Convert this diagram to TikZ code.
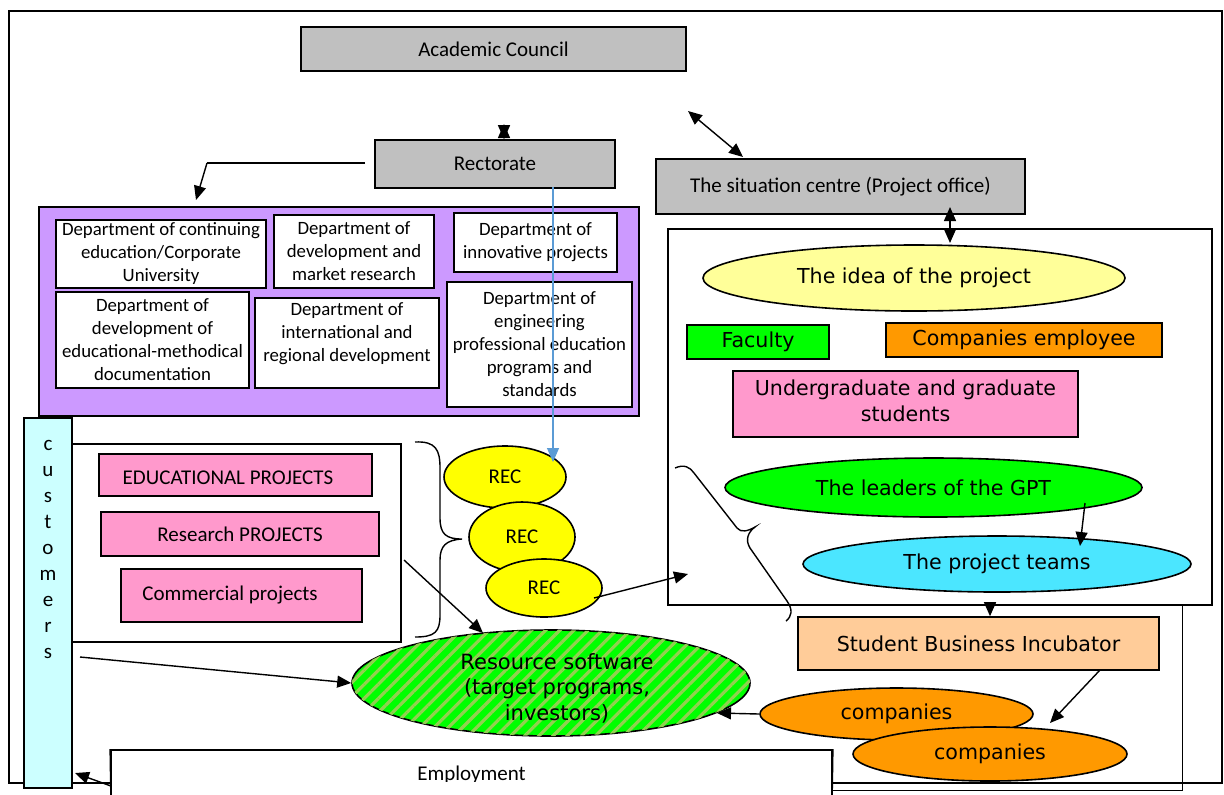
\documentclass[tikz,border=0pt]{standalone}
\usepackage{fontspec}
\setmainfont{Carlito}
\newfontfamily\vfont{DejaVu Sans}
\usetikzlibrary{arrows.meta,shapes.geometric,patterns.meta}
\definecolor{boxgray}{HTML}{C0C0C0}
\definecolor{lilac}{HTML}{CC99FF}
\definecolor{pinkbox}{HTML}{FF99CC}
\definecolor{custcyan}{HTML}{CCFFFF}
\definecolor{recyellow}{HTML}{FFFF00}
\definecolor{ideayellow}{HTML}{FFFF99}
\definecolor{brightgreen}{HTML}{00FF00}
\definecolor{orangebox}{HTML}{FF9900}
\definecolor{teamcyan}{HTML}{4BE6FF}
\definecolor{peach}{HTML}{FFCC99}
\definecolor{stripegreen}{HTML}{92D050}
\definecolor{linkblue}{HTML}{5B9BD5}
\begin{document}
\begin{tikzpicture}[x=0.5pt,y=-0.5pt,
  box/.style={draw,line width=0.8pt,inner sep=0pt,align=center,font=\fontsize{10.5}{12.6}\selectfont},
  dept/.style={box,fill=white,font=\fontsize{9.4}{11.5}\selectfont},
  vbox/.style={box,font=\vfont\fontsize{10.3}{12.7}\selectfont},
  ell/.style={ellipse,draw,line width=0.8pt,inner sep=0pt,align=center,font=\vfont\fontsize{10.3}{12.7}\selectfont},
  arr/.style={-{Triangle[length=7pt,width=6pt]},line width=0.7pt},
  dbl/.style={{Triangle[length=7pt,width=6pt]}-{Triangle[length=7pt,width=6pt]},line width=0.7pt},
  brace/.style={line width=0.7pt},
  plain/.style={align=center,inner sep=0pt,font=\fontsize{10.5}{12.6}\selectfont},
]
\useasboundingbox (0,0) rectangle (1224,794);
\clip (0,0) rectangle (1224,794);
\fill[white] (0,0) rectangle (1224,794);

% outer frame
\draw[line width=0.8pt] (9,11) rectangle (1222,783);

% top boxes
\node[box,fill=boxgray,minimum width=192.5pt,minimum height=22pt] (acad) at (493.5,49) {Academic Council};
\node[box,fill=boxgray,minimum width=120pt,minimum height=24pt] (rect) at (495,164) {Rectorate};
\node[box,fill=boxgray,minimum width=184.5pt,minimum height=27.5pt] (sit) at (840.5,186.5) {The situation centre (Project office)};

% departments
\node[box,fill=lilac,minimum width=300pt,minimum height=104.5pt] (purple) at (339,311.5) {};
\node[dept,minimum width=105pt,minimum height=34pt] (d1) at (161,254) {Department of continuing\\education/Corporate\\University};
\node[dept,minimum width=80pt,minimum height=36.5pt] (d2) at (354,251.5) {Department of\\development and\\market research};
\node[dept,minimum width=81.5pt,minimum height=29.5pt] (d3) at (535.5,242.5) {Department of\\innovative projects};
\node[dept,minimum width=96.5pt,minimum height=48pt] (d4) at (152.5,340) {Department of\\development of\\educational-methodical\\documentation};
\node[dept,minimum width=92pt,minimum height=45pt] (d5) at (347,343) {};
\node[plain,font=\fontsize{9.4}{11.5}\selectfont] (d5t) at (347,334) {Department of\\international and\\regional development};
\node[dept,minimum width=92.5pt,minimum height=62.5pt] (d6) at (539.5,344.5) {Department of\\engineering\\professional education\\programs and\\standards};

% right project box
\node[box,fill=white,minimum width=272pt,minimum height=188pt] (pbox) at (940,417) {};
\draw[line width=0.5pt] (1182,605) -- (1182,790) -- (833,790);

% customers
\node[box,fill=custcyan,minimum width=24pt,minimum height=185pt] (cust) at (48,603) {};
\node[plain,font=\fontsize{10.5}{13}\selectfont] (custt) at (48,549) {c\\u\\s\\t\\o\\m\\e\\r\\s};

% projects
\node[box,fill=white,minimum width=164.5pt,minimum height=99pt] (projbox) at (236.5,543) {};
\node[box,fill=pinkbox,minimum width=136.5pt,minimum height=21pt] (edu) at (235.5,475) {};
\node[plain] (edut) at (228,478) {EDUCATIONAL PROJECTS};
\node[box,fill=pinkbox,minimum width=139pt,minimum height=22pt] (res) at (240,534) {Research PROJECTS};
\node[box,fill=pinkbox,minimum width=120.5pt,minimum height=26.5pt] (com) at (241.5,595.5) {};
\node[plain] (comt) at (230,595) {Commercial projects};

% brace left
\draw[brace] (415,442) .. controls (436,441) and (440,450) .. (440,468) -- (440,518) .. controls (440,534) and (446,539) .. (462,539) .. controls (446,540) and (440,546) .. (440,560) -- (440,615) .. controls (440,632) and (435,637) .. (415,637);

% RECs
\node[ell,fill=recyellow,minimum width=61pt,minimum height=31pt,font=\fontsize{10.5}{12.6}\selectfont] (rec1) at (505,477) {REC};
\node[ell,fill=recyellow,minimum width=53pt,minimum height=35pt,font=\fontsize{10.5}{12.6}\selectfont] (rec2) at (522,537) {REC};
\node[ell,fill=recyellow,minimum width=58pt,minimum height=29pt,font=\fontsize{10.5}{12.6}\selectfont] (rec3) at (544,588) {REC};

% resource
\node[ell,fill=brightgreen,postaction={pattern={Lines[angle=45,distance=5pt,line width=1.6pt]},pattern color=stripegreen},minimum width=199pt,minimum height=53pt] (resource) at (551,683) {};
\node[plain,font=\vfont\fontsize{10.5}{12.7}\selectfont] (resourcet) at (557,688) {Resource software\\(target programs,\\investors)};

% employment
\node[box,fill=white,minimum width=360.5pt,minimum height=25pt] (emp) at (471.5,775) {Employment};
\node[fill=white,draw=none,inner sep=0pt,minimum width=359pt,minimum height=12pt] (empx) at (471.5,794) {};
\draw[line width=0.8pt] (emp.north west) -- (111,800);
\draw[line width=0.8pt] (emp.north east) -- (832,800);

% right side content
\node[ell,fill=ideayellow,minimum width=211pt,minimum height=33pt] (idea) at (914,278) {The idea of the project};
\node[vbox,fill=brightgreen,minimum width=71pt,minimum height=17pt] (fac) at (758,342) {Faculty};
\node[vbox,fill=orangebox,minimum width=138pt,minimum height=17pt] (ce) at (1024,340) {Companies employee};
\node[vbox,fill=pinkbox,minimum width=172.5pt,minimum height=33pt] (ug) at (905.5,404) {};
\node[plain,font=\vfont\fontsize{10.3}{12.7}\selectfont] (ugt) at (905.5,401) {Undergraduate and graduate\\students};
\node[ell,fill=brightgreen,minimum width=208.5pt,minimum height=29.5pt] (lead) at (933.5,487.5) {The leaders of the GPT};
\node[ell,fill=teamcyan,minimum width=194pt,minimum height=28pt] (teams) at (997,564) {The project teams};
\node[vbox,fill=peach,minimum width=180.5pt,minimum height=26.5pt] (sbi) at (978.5,643.5) {Student Business Incubator};
\node[ell,fill=orangebox,minimum width=136.5pt,minimum height=26pt] (comp1) at (896.5,714) {companies};
\node[ell,fill=orangebox,minimum width=137pt,minimum height=27pt] (comp2) at (990,754) {companies};

% right brace
\draw[brace] (675,468) .. controls (684,464) and (690,467) .. (694,473) -- (737,528) .. controls (741,533) and (748,531) .. (755,527) .. controls (748,532) and (745,540) .. (750,548) -- (787,601) .. controls (793,610) and (792,616) .. (786,621);

% connectors
\coordinate (a1s) at (504,124);
\draw[dbl] (a1s) -- (a1s |- rect.north);
\coordinate (a2s) at (688,111);
\coordinate (a2e) at (743,157);
\draw[dbl] (a2s) -- (a2e);
\coordinate (r1) at (365,163);
\coordinate (r2) at (207,163);
\coordinate (r3) at (196,200);
\draw[line width=0.7pt] (r1) -- (r2);
\draw[arr] (r2) -- (r3);
\coordinate (bl1) at (553,187);
\coordinate (bl2) at (553,462);
\draw[-{Triangle[length=7pt,width=6pt]},linkblue,line width=0.6pt] (bl1) -- (bl2);
\coordinate (s1) at (950,207);
\coordinate (s2) at (950,243);
\draw[dbl] (s1) -- (s2);
\coordinate (p1) at (404,560);
\coordinate (p2) at (483,633);
\draw[arr] (p1) -- (p2);
\coordinate (q1) at (594,598);
\coordinate (q2) at (688,574);
\draw[arr] (q1) -- (q2);
\coordinate (c1) at (80,657);
\draw[arr] (c1) -- (resource.west);
\coordinate (e1) at (111,786);
\coordinate (e2) at (75,773);
\draw[arr] (e1) -- (e2);
\coordinate (l1) at (1085,503);
\coordinate (l2) at (1080,546);
\draw[arr] (l1) -- (l2);
\coordinate (t1) at (990,604);
\draw[arr] (t1) -- (t1 |- sbi.north);
\coordinate (k1) at (1100,670);
\coordinate (k2) at (1050,723);
\draw[arr] (k1) -- (k2);
\coordinate (m2) at (717,713);
\draw[arr] (comp1.west) -- (m2);
\end{tikzpicture}
\end{document}
